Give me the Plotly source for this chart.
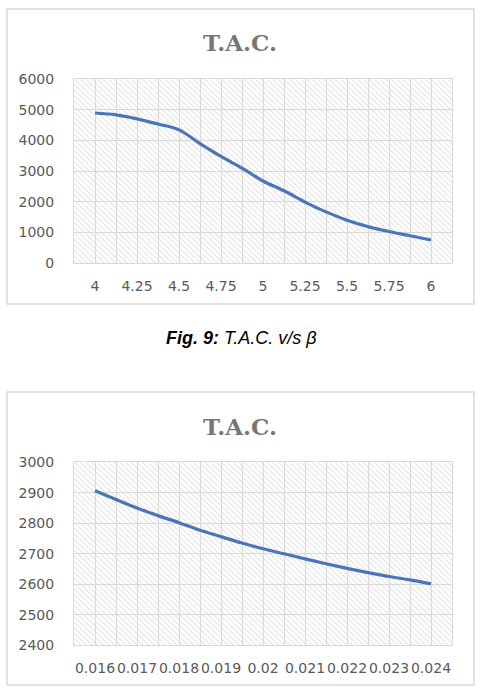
import plotly.graph_objects as go
import base64

# ---- data ----
beta = [4, 4.125, 4.25, 4.375, 4.5, 4.625, 4.75, 4.875, 5, 5.125, 5.25, 5.375, 5.5, 5.625, 5.75, 5.875, 6]
tac_beta = [4900, 4840, 4710, 4540, 4350, 3900, 3480, 3100, 2680, 2360, 1990, 1670, 1400, 1190, 1030, 890, 750]
beta_ticks = [4, 4.25, 4.5, 4.75, 5, 5.25, 5.5, 5.75, 6]
beta_labels = ["4", "4.25", "4.5", "4.75", "5", "5.25", "5.5", "5.75", "6"]

theta = [0.016, 0.0165, 0.017, 0.0175, 0.018, 0.0185, 0.019, 0.0195, 0.02, 0.0205,
         0.021, 0.0215, 0.022, 0.0225, 0.023, 0.0235, 0.024]
tac_theta = [2907, 2878, 2850, 2825, 2802, 2777, 2756, 2735, 2716, 2700,
             2683, 2667, 2652, 2638, 2625, 2614, 2601]
theta_ticks = [0.016, 0.017, 0.018, 0.019, 0.02, 0.021, 0.022, 0.023, 0.024]
theta_labels = ["0.016", "0.017", "0.018", "0.019", "0.02", "0.021", "0.022", "0.023", "0.024"]

W, H = 480, 698
LINE = "#4a76b8"
GRID = "#d9d9d9"
TICKC = "#595959"
TICKFONT = dict(family="DejaVu Sans", size=14, color=TICKC)

fig = go.Figure()
fig.add_trace(go.Scatter(x=beta, y=tac_beta, mode="lines", line=dict(color=LINE, width=3.2, shape="spline"),
                         xaxis="x", yaxis="y", showlegend=False))
fig.add_trace(go.Scatter(x=theta, y=tac_theta, mode="lines", line=dict(color=LINE, width=3.2, shape="spline"),
                         xaxis="x2", yaxis="y2", showlegend=False))

# plot areas in pixels
px_left, px_right = 74, 452
top_y0, top_y1 = 73, 261
bot_y0, bot_y1 = 465, 652

def ydom(a, b):
    return [1 - b / H, 1 - a / H]

xdom = [px_left / W, px_right / W]

common_x = dict(showgrid=True, gridcolor=GRID, gridwidth=1, showline=True, linecolor=GRID, linewidth=1,
                mirror=True, zeroline=False, tickangle=0, tickfont=TICKFONT, ticks="", ticklabelstandoff=10)
common_y = dict(showgrid=True, gridcolor=GRID, gridwidth=1, showline=True, linecolor=GRID, linewidth=1,
                mirror=True, zeroline=False, tickfont=TICKFONT, ticks="", ticklabelstandoff=16)

fig.update_layout(
    width=W, height=H, margin=dict(l=0, r=0, t=0, b=0),
    paper_bgcolor="white", plot_bgcolor="white",
    xaxis=dict(domain=xdom, anchor="y", range=[3.875, 6.125], tickvals=beta_ticks, ticktext=beta_labels,
               minor=dict(tick0=3.875, dtick=0.125, showgrid=True, gridcolor=GRID, gridwidth=1), **common_x),
    yaxis=dict(domain=ydom(top_y0, top_y1), anchor="x", range=[0, 6000], dtick=1000, **common_y),
    xaxis2=dict(domain=xdom, anchor="y2", range=[0.0155, 0.0245], tickvals=theta_ticks, ticktext=theta_labels,
                minor=dict(tick0=0.0155, dtick=0.0005, showgrid=True, gridcolor=GRID, gridwidth=1), **common_x),
    yaxis2=dict(domain=ydom(bot_y0, bot_y1), anchor="x2", range=[2400, 3000], dtick=100, **common_y),
)

# hatch background pattern as SVG images
def hatch_svg(w, h):
    svg = (f'<svg xmlns="http://www.w3.org/2000/svg" width="{w}" height="{h}">'
           '<defs><pattern id="p" width="4" height="4" patternUnits="userSpaceOnUse" '
           'patternTransform="rotate(-45)">'
           '<line x1="0" y1="0" x2="0" y2="4" stroke="#cfcfcf" stroke-width="1.2"/></pattern></defs>'
           f'<rect width="{w}" height="{h}" fill="url(#p)"/></svg>')
    return "data:image/svg+xml;base64," + base64.b64encode(svg.encode()).decode()

pw = px_right - px_left
for (a, b) in [(top_y0, top_y1), (bot_y0, bot_y1)]:
    fig.add_layout_image(dict(source=hatch_svg(pw, b - a), xref="paper", yref="paper",
                              x=px_left / W, y=1 - a / H, sizex=pw / W, sizey=(b - a) / H,
                              xanchor="left", yanchor="top", sizing="stretch", layer="below"))

# chart frames
for (a, b) in [(1, 303), (393, 693)]:
    fig.add_shape(type="rect", xref="paper", yref="paper", x0=7 / W, x1=474 / W,
                  y0=1 - b / H, y1=1 - a / H, line=dict(color=GRID, width=1.5), fillcolor="rgba(0,0,0,0)",
                  layer="below")

# titles
for yc in [35, 428]:
    fig.add_annotation(text="<b>T.A.C.</b>", xref="paper", yref="paper", x=240 / W, y=1 - yc / H,
                       showarrow=False, font=dict(family="DejaVu Serif", size=23, color="#777777"),
                       xanchor="center", yanchor="middle")

# caption
fig.add_annotation(text="<b><i>Fig. 9:</i></b><i> T.A.C. v/s β</i>", xref="paper", yref="paper",
                   x=241 / W, y=1 - 338 / H, showarrow=False,
                   font=dict(family="Liberation Sans", size=18, color="black"),
                   xanchor="center", yanchor="middle")

fig.write_html("out.html")
